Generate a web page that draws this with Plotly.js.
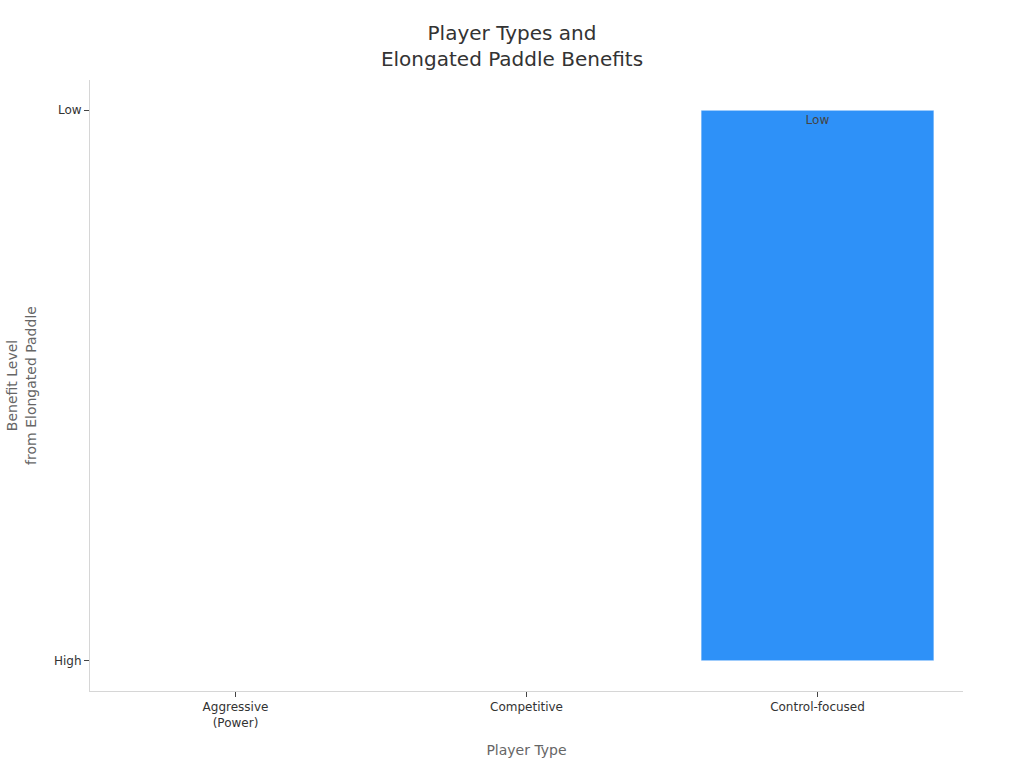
<!DOCTYPE html>
<html>
<head>
<meta charset="utf-8">
<script src="https://cdn.plot.ly/plotly-3.0.1.min.js"></script>
<style>
  html, body { margin: 0; padding: 0; background: #fff; }
  #chart { width: 1024px; height: 768px; }
</style>
</head>
<body>
<div id="chart"></div>
<script>
var playerTypes = ['Aggressive<br>(Power)', 'Competitive', 'Control-focused'];
var benefitLevels = ['High', 'High', 'Low'];
var barLabels = ['', '', 'Low'];
var levelOrder = ['High', 'Low'];

var trace = {
  x: playerTypes,
  y: benefitLevels,
  type: 'bar',
  text: barLabels,
  textposition: 'inside',
  insidetextanchor: 'end',
  textfont: { color: '#444', size: 12 },
  marker: {
    color: 'rgb(46, 145, 248)',
    line: { color: 'rgba(255,255,255,0.5)', width: 1 }
  },
  hoverinfo: 'x+y'
};

var layout = {
  width: 1024,
  height: 768,
  font: { family: 'DejaVu Sans, sans-serif', color: '#333' },
  title: {
    text: 'Player Types and<br>Elongated Paddle Benefits',
    font: { size: 20, color: '#333' },
    x: 0.5,
    y: 0.948,
    xanchor: 'center'
  },
  margin: { l: 90, r: 61, t: 80, b: 77 },
  plot_bgcolor: '#fff',
  paper_bgcolor: '#fff',
  showlegend: false,
  bargap: 0.2,
  xaxis: {
    type: 'category',
    range: [-0.5, 2.5],
    showline: true,
    linecolor: '#d6d6d6',
    linewidth: 1,
    ticks: 'outside',
    ticklen: 5,
    tickcolor: '#444',
    tickfont: { size: 12, color: '#333' },
    showgrid: false,
    zeroline: false,
    title: { text: 'Player Type', font: { size: 14, color: '#666' }, standoff: 16 }
  },
  yaxis: {
    type: 'category',
    categoryorder: 'array',
    categoryarray: levelOrder,
    range: [-0.055, 1.055],
    showline: true,
    linecolor: '#d6d6d6',
    linewidth: 1,
    ticks: 'outside',
    ticklen: 5,
    tickcolor: '#444',
    tickfont: { size: 12, color: '#333' },
    showgrid: false,
    zeroline: false,
    title: { text: 'Benefit Level<br>from Elongated Paddle', font: { size: 14, color: '#666' }, standoff: 14 }
  }
};

Plotly.newPlot('chart', [trace], layout, { displayModeBar: false });
</script>
</body>
</html>
